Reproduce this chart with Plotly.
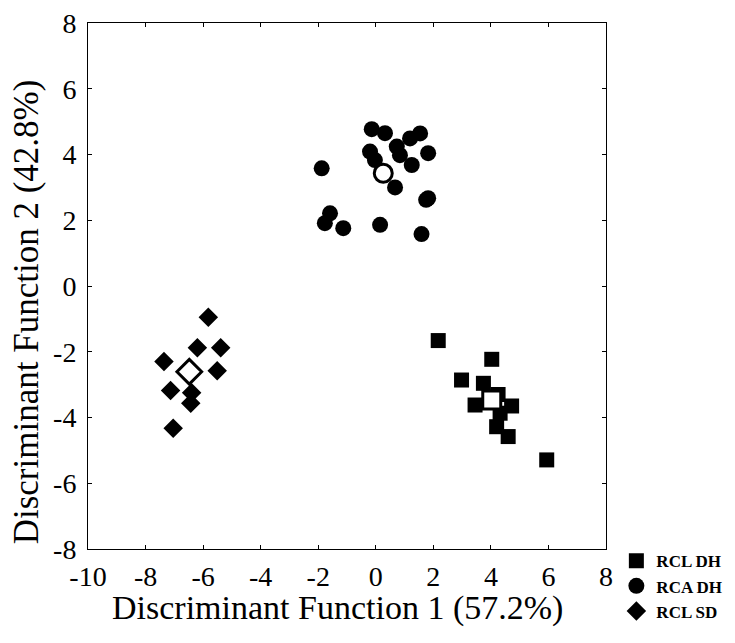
import plotly.graph_objects as go

# RCL DH (squares)
rcl_dh_x = [2.17, 4.03, 2.98, 3.74, 3.45, 4.72, 4.32, 4.20, 4.60, 5.94, 4.25]
rcl_dh_y = [-1.66, -2.23, -2.86, -2.96, -3.62, -3.65, -3.87, -4.28, -4.58, -5.29, -3.30]
rcl_dh_centroid = (4.03, -3.47)

# RCA DH (circles)
rca_dh_x = [-0.14, 0.32, 1.19, 1.54, 1.82, -0.20, -0.03, 0.73, 0.84, 1.25, 0.67,
            -1.88, 1.82, 1.75, -1.59, -1.77, -1.13, 0.15, 1.59]
rca_dh_y = [4.77, 4.65, 4.49, 4.64, 4.04, 4.09, 3.83, 4.24, 3.98, 3.68, 3.00,
            3.58, 2.67, 2.62, 2.21, 1.91, 1.76, 1.86, 1.58]
rca_dh_centroid = (0.26, 3.43)

# RCL SD (diamonds)
rcl_sd_x = [-5.82, -6.20, -5.39, -7.36, -5.51, -7.13, -6.40, -6.43, -7.04]
rcl_sd_y = [-0.95, -1.88, -1.88, -2.30, -2.58, -3.18, -3.25, -3.57, -4.33]
rcl_sd_centroid = (-6.48, -2.61)

x_ticks = [-10, -8, -6, -4, -2, 0, 2, 4, 6, 8]
x_tick_labels = ["-10", "-8", "-6", "-4", "-2", "0", "2", "4", "6", "8"]
y_ticks = [-8, -6, -4, -2, 0, 2, 4, 6, 8]
y_tick_labels = ["-8", "-6", "-4", "-2", "0", "2", "4", "6", "8"]

x_title = "Discriminant Function 1 (57.2%)"
y_title = "Discriminant Function 2 (42.8%)"

serif = "Liberation Serif, Times New Roman, serif"

fig = go.Figure()
fig.add_trace(go.Scatter(x=rcl_dh_x, y=rcl_dh_y, mode="markers", name="RCL DH",
                         marker=dict(symbol="square", size=15, color="black")))
fig.add_trace(go.Scatter(x=rca_dh_x, y=rca_dh_y, mode="markers", name="RCA DH",
                         marker=dict(symbol="circle", size=16, color="black")))
fig.add_trace(go.Scatter(x=rcl_sd_x, y=rcl_sd_y, mode="markers", name="RCL SD",
                         marker=dict(symbol="diamond", size=15, color="black")))

for (cx, cy), sym, sz in [(rcl_dh_centroid, "square", 18),
                          (rca_dh_centroid, "circle", 18),
                          (rcl_sd_centroid, "diamond", 19)]:
    fig.add_trace(go.Scatter(x=[cx], y=[cy], mode="markers", showlegend=False,
                             marker=dict(symbol=sym, size=sz, color="white",
                                         line=dict(color="black", width=3))))

axis_common = dict(showgrid=False, zeroline=False, showline=True, linecolor="black",
                   linewidth=1, mirror="ticks", ticks="inside", ticklen=4,
                   tickcolor="black", tickfont=dict(family=serif, size=28, color="black"))

fig.update_layout(
    width=735, height=643,
    margin=dict(l=88, r=129, t=23, b=94, autoexpand=False),
    plot_bgcolor="white", paper_bgcolor="white",
    xaxis=dict(range=[-10, 8], tickvals=x_ticks, ticktext=x_tick_labels,
               ticklabelstandoff=2, **axis_common),
    yaxis=dict(range=[-8, 8], tickvals=y_ticks, ticktext=y_tick_labels,
               ticklabelstandoff=5, **axis_common),
    legend=dict(x=1.02, y=0.011, xanchor="left", yanchor="top",
                font=dict(family=serif, size=17, color="black", weight="bold"),
                bgcolor="rgba(0,0,0,0)", tracegroupgap=0),
    showlegend=True,
    annotations=[
        dict(text=x_title, xref="paper", yref="paper", x=0.482, y=-0.113,
             xanchor="center", yanchor="middle", showarrow=False,
             font=dict(family=serif, size=34, color="black")),
        dict(text=y_title, xref="paper", yref="paper", x=0, y=0.45,
             xshift=-62, xanchor="center", yanchor="middle", showarrow=False,
             textangle=-90, font=dict(family=serif, size=35, color="black")),
    ],
)

fig.write_html("out.html", config={"displayModeBar": False},
               post_script="document.body.style.margin='0';")
